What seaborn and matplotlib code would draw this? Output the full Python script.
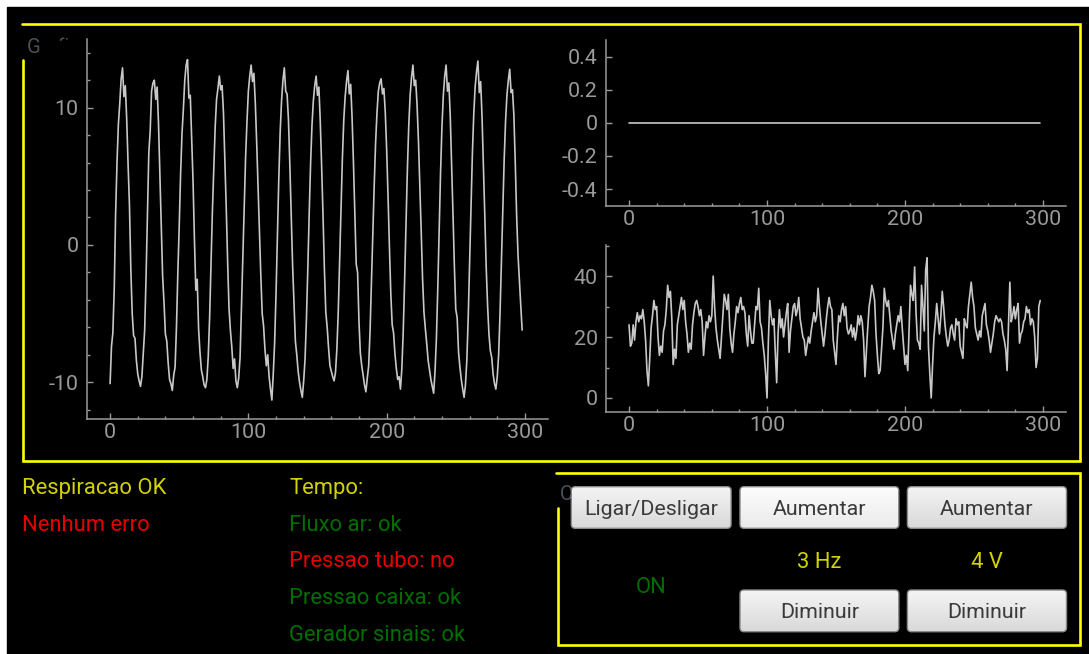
import numpy as np
import pandas as pd
import matplotlib
matplotlib.use("Agg")
import matplotlib.pyplot as plt
import seaborn as sns
from matplotlib.patches import FancyBboxPatch, Rectangle
from matplotlib.ticker import FixedLocator, MultipleLocator, FuncFormatter

# ---- sinais ----
fluxo_ar = [
    -10.1, -7.4, -6.4, -3.2, 2.3, 6.0, 8.8, 10.3, 12.1, 12.9,
    10.8, 11.6, 9.2, 5.9, 2.9, -1.8, -5.0, -6.6, -6.8, -8.4, -9.4, -9.9, -10.3,
    -9.6, -7.9, -6.2, -2.4, 2.3, 6.7, 8.3, 11.2, 11.8, 12.0,
    10.6, 11.5, 8.9, 5.1, 1.5, -2.3, -4.2, -6.5, -7.0, -8.6, -9.8, -10.1, -10.6,
    -9.5, -8.9, -6.0, -2.0, 1.4, 5.2, 8.1, 9.9, 12.0, 13.1, 13.5,
    10.7, 10.9, 7.8, 4.6, 0.4, -3.3, -2.5, -6.1, -7.8, -9.1, -9.6, -10.2, -10.4,
    -9.8, -8.1, -5.2, -1.4, 2.5, 5.6, 8.6, 10.6, 11.4, 12.3,
    11.3, 11.6, 9.6, 6.1, 2.7, -1.2, -4.6, -6.2, -7.4, -9.0, -8.3, -9.9, -10.4,
    -9.7, -8.2, -4.5, -0.9, 2.7, 6.4, 9.0, 11.2, 12.3, 13.1,
    11.9, 12.5, 10.4, 7.5, 4.3, 1.0, -2.2, -5.0, -5.9, -7.6, -8.8, -8.0, -9.6, -10.5, -11.3,
    -9.4, -7.1, -3.6, 0.6, 4.8, 8.2, 10.5, 12.0, 12.9,
    11.2, 11.0, 9.1, 5.8, 2.2, -1.5, -4.3, -7.0, -8.0, -9.2, -10.0, -10.6, -11.1,
    -9.9, -8.3, -5.4, -1.7, 2.3, 5.9, 8.7, 10.5, 11.6, 12.3,
    10.9, 11.5, 9.0, 5.7, 2.1, -1.8, -4.9, -6.0, -7.5, -8.8, -9.2, -9.6, -9.9,
    -9.3, -7.6, -4.9, -1.1, 2.8, 6.3, 9.1, 10.8, 11.9, 12.7,
    11.0, 11.7, 9.3, 6.0, 2.4, -1.4, -2.0, -5.6, -7.9, -8.8, -9.5, -10.2, -10.7,
    -9.7, -8.8, -6.3, -2.7, 0.8, 4.3, 7.4, 9.6, 11.2, 11.8, 12.1,
    11.0, 11.4, 9.7, 7.0, 3.6, -0.1, -3.5, -5.8, -6.4, -7.9, -9.0, -9.8, -9.6, -10.5,
    -9.0, -6.3, -2.6, 1.6, 5.5, 8.7, 10.9, 12.2, 13.1,
    11.6, 12.0, 10.2, 7.6, 4.4, 1.0, -2.5, -4.9, -6.1, -7.2, -8.4, -9.1, -9.8, -10.3, -10.8,
    -9.2, -6.8, -3.1, 1.2, 5.3, 8.6, 10.9, 12.3, 13.1,
    11.2, 11.8, 9.4, 5.9, 2.2, -1.6, -4.7, -5.3, -7.8, -8.9, -9.8, -10.5, -11.1,
    -10.2, -8.4, -5.3, -1.3, 2.9, 6.6, 9.5, 11.5, 12.6, 13.4,
    11.1, 11.9, 9.3, 5.8, 2.1, -1.6, -4.4, -6.5, -7.7, -8.2, -9.4, -10.1, -10.5,
    -9.6, -8.0, -5.0, -1.2, 2.7, 6.2, 9.0, 10.9, 12.0, 12.8,
    11.1, 11.3, 9.5, 6.1, 2.2, -0.7, -2.6, -4.4, -6.2,
]

pressao_tubo = [0.0] * 299

pressao_caixa = [
    24, 17, 18, 24, 19, 25, 28, 25, 27, 26,
    29, 25, 19, 9, 4, 13, 23, 27, 32, 29,
    30, 20, 14, 17, 15, 22, 24, 29, 37, 33,
    35, 26, 11, 16, 13, 24, 27, 30, 33, 29,
    32, 25, 21, 15, 18, 16, 24, 28, 31, 32,
    30, 27, 29, 25, 14, 20, 25, 23, 27, 25,
    27, 40, 30, 23, 19, 16, 13, 20, 27, 34,
    32, 29, 34, 23, 18, 15, 21, 25, 30, 28,
    31, 33, 29, 30, 28, 21, 17, 27, 22, 18,
    18, 24, 30, 29, 36, 25, 23, 18, 14, 8,
    0, 19, 32, 27, 24, 26, 15, 5, 21, 29,
    23, 26, 20, 24, 28, 31, 15, 22, 26, 30,
    31, 27, 29, 33, 26, 23, 20, 19, 14, 17,
    20, 18, 22, 25, 28, 25, 27, 36, 30, 25,
    21, 17, 21, 26, 30, 33, 30, 29, 19, 15,
    11, 20, 27, 25, 29, 31, 27, 30, 23, 21,
    22, 24, 20, 23, 19, 22, 27, 24, 27, 25,
    19, 7, 15, 23, 30, 33, 37, 35, 32, 21,
    14, 8, 9, 16, 23, 36, 32, 30, 32, 27,
    22, 19, 16, 21, 24, 27, 25, 30, 23, 17,
    11, 14, 9, 23, 37, 34, 32, 43, 28, 19,
    18, 16, 37, 30, 22, 42, 46, 17, 8, 0,
    11, 20, 25, 31, 26, 21, 27, 35, 30, 24,
    20, 17, 19, 23, 24, 21, 19, 26, 24, 25,
    17, 15, 13, 26, 24, 23, 30, 34, 38, 33,
    30, 23, 21, 19, 22, 20, 27, 29, 31, 24,
    22, 19, 15, 18, 21, 25, 27, 26, 25, 26,
    25, 21, 19, 16, 9, 24, 38, 25, 27, 30,
    26, 29, 31, 18, 21, 22, 25, 26, 30, 28,
    29, 24, 26, 25, 20, 10, 13, 30, 32,
]

marcas_x = [0, 100, 200, 300]
marcas_fluxo = [-10, 0, 10]
marcas_tubo = [-0.4, -0.2, 0.0, 0.2, 0.4]
marcas_caixa = [0, 20, 40]

# ---- estilo ----
sns.set_theme(style="ticks")
plt.rcParams["font.family"] = ["Roboto", "DejaVu Sans"]
plt.rcParams["axes.unicode_minus"] = False

EIXO = "#9a9a9a"
TRACO = "#c8c8c8"
AMARELO = "#ffff00"
TXT_AMARELO = "#d2d200"
TXT_VERMELHO = "#e60000"
TXT_VERDE = "#006e00"
TXT_TITULO = "#4b5159"
FS = 15.4
FS_TXT = 15.8

W, H = 1089, 654
fig = plt.figure(figsize=(W / 100, H / 100), dpi=100, facecolor="white")


def px_axes(x0, y0, x1, y1):
    return fig.add_axes([x0 / W, 1 - y1 / H, (x1 - x0) / W, (y1 - y0) / H])


# camada de fundo em coordenadas de pixel
bg = px_axes(0, 0, W, H)
bg.set_xlim(0, W)
bg.set_ylim(H, 0)
bg.axis("off")
bg.add_patch(Rectangle((7, 7), W - 7, H - 7, color="black", zorder=0))

# titulo do grupo de graficos, encoberto pelo widget dos graficos
bg.text(26.5, 53, "Graficos", color=TXT_TITULO, fontsize=14.5, va="baseline", zorder=1)
bg.add_patch(Rectangle((39.5, 41.3), 1035, 414, color="black", zorder=1.5))

# molduras amarelas
bg.plot([23.3, 23.3, 1080, 1080, 22], [60, 460.7, 460.7, 24.3, 24.3],
        color=AMARELO, lw=1.9, solid_joinstyle="miter", zorder=2)
bg.plot([557.5, 557.5, 1080.3, 1080.3, 556.3], [508, 644.7, 644.7, 473, 473],
        color=AMARELO, lw=1.9, solid_joinstyle="miter", zorder=2)
bg.text(559.5, 500, "C", color=TXT_TITULO, fontsize=14.5, va="baseline", zorder=1)

# textos de estado
estados = [
    (22, 494, "Respiracao OK", TXT_AMARELO),
    (22, 530.7, "Nenhum erro", TXT_VERMELHO),
    (289, 494, "Tempo:", TXT_AMARELO),
    (289, 530.7, "Fluxo ar: ok", TXT_VERDE),
    (289, 567.3, "Pressao tubo: no", TXT_VERMELHO),
    (289, 604, "Pressao caixa: ok", TXT_VERDE),
    (289, 640.7, "Gerador sinais: ok", TXT_VERDE),
]
for x, y, s, c in estados:
    bg.text(x, y, s, color=c, fontsize=FS_TXT, va="baseline", zorder=3)

bg.text(819, 568.3, "3 Hz", color=TXT_AMARELO, fontsize=FS_TXT,
        ha="center", va="baseline", zorder=3)
bg.text(987, 568.3, "4 V", color=TXT_AMARELO, fontsize=FS_TXT,
        ha="center", va="baseline", zorder=3)
bg.text(651.5, 593.3, "ON", color=TXT_VERDE, fontsize=FS_TXT,
        ha="center", va="baseline", zorder=3)

# botoes
botoes = [
    (571.3, 486.7, 731.1, 528.3, "Ligar/Desligar", False),
    (740.0, 486.7, 898.8, 528.3, "Aumentar", True),
    (907.4, 486.7, 1066.5, 528.3, "Aumentar", False),
    (740.0, 590.0, 898.8, 631.7, "Diminuir", False),
    (907.4, 590.0, 1066.5, 631.7, "Diminuir", False),
]
for x0, y0, x1, y1, rotulo, foco in botoes:
    topo = np.array([0.99, 0.99, 0.99]) if foco else np.array([0.96, 0.96, 0.96])
    base = np.array([0.92, 0.92, 0.92]) if foco else np.array([0.85, 0.85, 0.85])
    t = np.linspace(0, 1, 64)[:, None, None]
    grad = topo * (1 - t) + base * t
    caixa = FancyBboxPatch((x0, y0), x1 - x0, y1 - y0,
                           boxstyle="round,pad=0,rounding_size=4",
                           fc="none", ec="#8a8a8a", lw=1.0, zorder=5)
    bg.add_patch(caixa)
    im = bg.imshow(grad, extent=(x0, x1, y1, y0), aspect="auto",
                   interpolation="bilinear", zorder=4)
    im.set_clip_path(caixa)
    bg.text((x0 + x1) / 2, y0 + 28.5, rotulo, color="#3a3a3a", fontsize=FS,
            ha="center", va="baseline", zorder=6)

bg.set_xlim(0, W)
bg.set_ylim(H, 0)


def estilo(ax, ylim, maiores, menores, fmt):
    ax.set_facecolor("black")
    ax.set_xlim(-16.7, 316.7)
    ax.set_ylim(*ylim)
    ax.grid(False)
    ax.set_xlabel("")
    ax.set_ylabel("")
    for s in ("top", "right"):
        ax.spines[s].set_visible(False)
    for s in ("left", "bottom"):
        ax.spines[s].set_color(EIXO)
        ax.spines[s].set_linewidth(1.1)
    ax.xaxis.set_major_locator(FixedLocator(marcas_x))
    ax.xaxis.set_minor_locator(MultipleLocator(20))
    ax.yaxis.set_major_locator(FixedLocator(maiores))
    if menores:
        ax.yaxis.set_minor_locator(MultipleLocator(menores))
    ax.xaxis.set_major_formatter(FuncFormatter(lambda v, p: f"{v:g}"))
    ax.yaxis.set_major_formatter(FuncFormatter(fmt))
    ax.tick_params(which="both", direction="in", colors=EIXO, width=1.0,
                   labelsize=FS, labelcolor=EIXO)
    ax.tick_params(which="major", length=4.5)
    ax.tick_params(which="minor", length=2.5)
    ax.tick_params(axis="x", pad=3)
    ax.tick_params(axis="y", pad=6)


amostras = np.arange(len(fluxo_ar))
df = pd.DataFrame({
    "amostra": amostras,
    "fluxo": fluxo_ar,
    "tubo": pressao_tubo[:len(amostras)],
    "caixa": pressao_caixa[:len(amostras)],
})

ax1 = px_axes(87, 39, 548, 419.3)
sns.lineplot(data=df, x="amostra", y="fluxo", ax=ax1, color=TRACO, lw=1.2,
             estimator=None, errorbar=None, sort=False)
estilo(ax1, (-12.7, 15.0), marcas_fluxo, 2, lambda v, p: f"{v:g}")

ax2 = px_axes(606, 40, 1066, 205.7)
sns.lineplot(data=df, x="amostra", y="tubo", ax=ax2, color=TRACO, lw=1.2,
             estimator=None, errorbar=None, sort=False)
estilo(ax2, (-0.5, 0.5), marcas_tubo, None, lambda v, p: f"{round(v, 2):g}")

ax3 = px_axes(606, 245, 1066, 411.7)
sns.lineplot(data=df, x="amostra", y="caixa", ax=ax3, color=TRACO, lw=1.2,
             estimator=None, errorbar=None, sort=False)
estilo(ax3, (-4.5, 50.2), marcas_caixa, 10, lambda v, p: f"{v:g}")

fig.savefig("out.png", dpi=100, facecolor=fig.get_facecolor())
